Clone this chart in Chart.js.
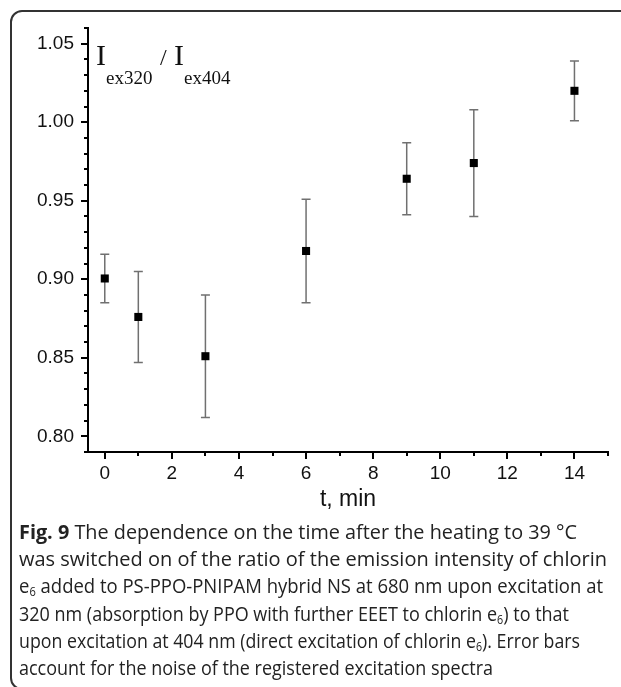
<!DOCTYPE html>
<html>
<head>
<meta charset="utf-8">
<script src="https://cdn.jsdelivr.net/npm/chart.js@4"></script>
<style>
  body { margin: 0; background: #fff; width: 621px; height: 687px; overflow: hidden; position: relative; }
  #frame { position: absolute; left: 10px; top: 10px; width: 700px; height: 676px; border: 2px solid #333; border-radius: 12px; }
  #chart { position: absolute; left: 0; top: 0; }
  #ylabel { position: absolute; left: 96px; top: 40px; font: 30px 'Liberation Serif', 'Times New Roman', serif; line-height: 30px; white-space: nowrap; color: #111; }
  #ylabel sub { font-size: 19px; vertical-align: -19px; line-height: 0; }
  #ylabel .sl { font-size: 24px; }
  #caption { position: absolute; left: 19px; top: 518px; font: 20px 'Open Sans', sans-serif; line-height: 27.2px; color: #222; white-space: nowrap; }
  #caption .ln { display: block; height: 27.2px; }
  #caption .ln span { display: inline-block; transform-origin: 0 50%; }
  #caption sub { font-size: 12px; vertical-align: -3px; line-height: 0; }
</style>
</head>
<body>
<div id="frame"></div>
<canvas id="chart" width="621" height="520"></canvas>
<div id="ylabel">I<sub>ex320</sub> <span class="sl">/</span> I<sub>ex404</sub></div>
<div id="caption">
<div class="ln" data-w="558"><span><b>Fig. 9</b> The dependence on the time after the heating to 39 °C</span></div>
<div class="ln" data-w="588"><span>was switched on of the ratio of the emission intensity of chlorin</span></div>
<div class="ln" data-w="584"><span>e<sub>6</sub> added to PS-PPO-PNIPAM hybrid NS at 680 nm upon excitation at</span></div>
<div class="ln" data-w="550"><span>320 nm (absorption by PPO with further EEET to chlorin e<sub>6</sub>) to that</span></div>
<div class="ln" data-w="561"><span>upon excitation at 404 nm (direct excitation of chlorin e<sub>6</sub>). Error bars</span></div>
<div class="ln" data-w="474"><span>account for the noise of the registered excitation spectra</span></div>
</div>
<script>
// time after heating switched on, min
const times = [0, 1, 3, 6, 9, 11, 14];
// I_ex320 / I_ex404 ratio
const ratios = [0.9005, 0.876, 0.851, 0.918, 0.964, 0.974, 1.020];
// half-length of error bars
const errors = [0.0155, 0.029, 0.039, 0.033, 0.023, 0.034, 0.019];

// axis ticks (labelled) and ranges
const xTickLabels = [0, 2, 4, 6, 8, 10, 12, 14];
const yTickLabels = [0.80, 0.85, 0.90, 0.95, 1.00, 1.05];
const xRange = [-0.5, 15];
const yRange = [0.79, 1.06];
const xMinorStep = 1;
const yMinorStep = 0.01;

// squeeze each caption line to the width it has in the printed figure
document.querySelectorAll('#caption .ln').forEach(ln => {
    const span = ln.firstElementChild;
    const w = span.getBoundingClientRect().width;
    span.style.transform = 'scaleX(' + (+ln.dataset.w / w) + ')';
});

function stepValues(min, max, step) {
    const vals = [];
    const n = Math.round((max - min) / step);
    for (let i = 0; i <= n; i++) vals.push(+(min + i * step).toFixed(4));
    return vals;
}

function isLabelled(list, v) {
    return list.some(l => Math.abs(l - v) < 1e-6);
}

// error bars drawn through the chart scales
const errorBarPlugin = {
    id: 'errorBars',
    beforeDatasetsDraw(chart) {
        const { ctx, scales: { x, y } } = chart;
        ctx.save();
        ctx.strokeStyle = '#707070';
        ctx.lineWidth = 1.5;
        times.forEach((t, i) => {
            const px = x.getPixelForValue(t);
            const top = y.getPixelForValue(ratios[i] + errors[i]);
            const bot = y.getPixelForValue(ratios[i] - errors[i]);
            ctx.beginPath();
            ctx.moveTo(px, top);
            ctx.lineTo(px, bot);
            ctx.moveTo(px - 4.5, top);
            ctx.lineTo(px + 4.5, top);
            ctx.moveTo(px - 4.5, bot);
            ctx.lineTo(px + 4.5, bot);
            ctx.stroke();
        });
        ctx.restore();
    }
};

// outward tick marks, long for labelled ticks, short for minor ones
const tickMarkPlugin = {
    id: 'tickMarks',
    afterDraw(chart) {
        const { ctx, chartArea, scales: { x, y } } = chart;
        ctx.save();
        ctx.strokeStyle = '#000';
        ctx.lineWidth = 2;
        ctx.beginPath();
        x.ticks.forEach(t => {
            const px = Math.round(x.getPixelForValue(t.value));
            const len = isLabelled(xTickLabels, t.value) ? 7 : 4;
            ctx.moveTo(px, chartArea.bottom);
            ctx.lineTo(px, chartArea.bottom + len);
        });
        y.ticks.forEach(t => {
            const py = Math.round(y.getPixelForValue(t.value));
            const len = isLabelled(yTickLabels, t.value) ? 7 : 4;
            ctx.moveTo(chartArea.left, py);
            ctx.lineTo(chartArea.left - len, py);
        });
        ctx.stroke();
        ctx.restore();
    }
};

const tickFont = { family: "'Liberation Sans', Arial, sans-serif", size: 19 };

new Chart(document.getElementById('chart'), {
    type: 'scatter',
    data: {
        datasets: [{
            data: times.map((t, i) => ({ x: t, y: ratios[i] })),
            backgroundColor: '#000',
            borderColor: '#000',
            pointStyle: 'rect',
            pointRadius: 5.7,
            pointBorderWidth: 0,
            showLine: false
        }]
    },
    options: {
        responsive: false,
        animation: false,
        devicePixelRatio: 1,
        layout: { padding: { top: 28, right: 13, left: 0, bottom: 7 } },
        plugins: { legend: { display: false }, tooltip: { enabled: false } },
        scales: {
            x: {
                type: 'linear',
                min: xRange[0],
                max: xRange[1],
                afterBuildTicks: scale => {
                    scale.ticks = stepValues(0, xRange[1], xMinorStep).map(v => ({ value: v }));
                },
                afterFit: scale => { scale.height = 61; },
                grid: { display: true, drawOnChartArea: false, drawTicks: true, tickLength: 7, tickColor: 'rgba(0,0,0,0)' },
                border: { display: true, color: '#000', width: 2 },
                ticks: {
                    autoSkip: false,
                    maxRotation: 0,
                    padding: 3,
                    color: '#111',
                    font: tickFont,
                    callback: v => isLabelled(xTickLabels, v) ? String(v) : ''
                },
                title: {
                    display: true,
                    text: 't, min',
                    color: '#111',
                    font: { family: "'Liberation Sans', Arial, sans-serif", size: 23 },
                    padding: { top: 0, bottom: 0 }
                }
            },
            y: {
                type: 'linear',
                min: yRange[0],
                max: yRange[1],
                afterBuildTicks: scale => {
                    scale.ticks = stepValues(yRange[0], yRange[1], yMinorStep).map(v => ({ value: v }));
                },
                afterFit: scale => { scale.width = 88; },
                grid: { display: true, drawOnChartArea: false, drawTicks: true, tickLength: 7, tickColor: 'rgba(0,0,0,0)' },
                border: { display: true, color: '#000', width: 2 },
                ticks: {
                    autoSkip: false,
                    padding: 7,
                    color: '#111',
                    font: tickFont,
                    callback: v => isLabelled(yTickLabels, v) ? v.toFixed(2) : ''
                }
            }
        }
    },
    plugins: [errorBarPlugin, tickMarkPlugin]
});
</script>
</body>
</html>
